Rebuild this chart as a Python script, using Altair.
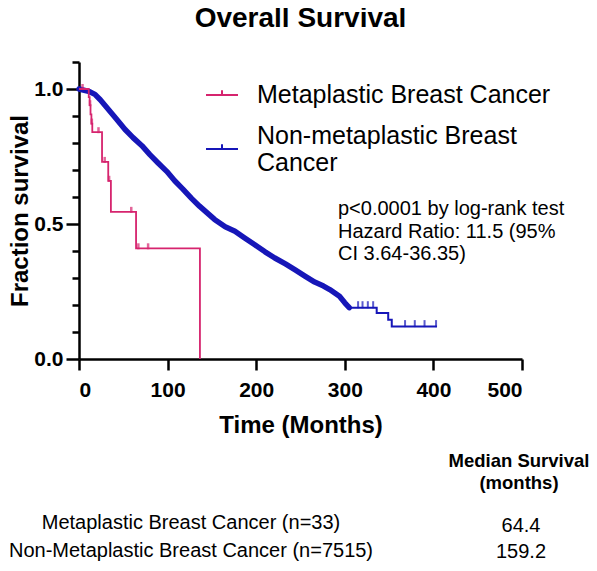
import altair as alt
import pandas as pd

FONT = "Liberation Sans"
RED = "#d6246e"
BLUE = "#1616b8"

title_text = "Overall Survival"
groups = ["Metaplastic Breast Cancer", "Non-metaplastic Breast Cancer"]

# Metaplastic (n=33) Kaplan-Meier steps
meta_time = [0, 11, 12, 13, 14, 15, 26, 33, 36, 64.4, 136.5]
meta_surv = [1.0, 0.97, 0.94, 0.906, 0.872, 0.84, 0.73, 0.66, 0.545, 0.41, 0.0]
meta_cens_time = [4, 12.5, 14.5, 22, 29, 34, 59, 67, 78]
meta_cens_surv = [1.0, 0.94, 0.872, 0.84, 0.73, 0.66, 0.545, 0.41, 0.41]

# Non-metaplastic (n=7515) curve (dense part)
non_time = [0, 12, 18, 24, 33, 42, 52, 61, 71, 80, 89, 99, 108, 117, 127, 136,
            153, 165, 176, 187, 198, 210, 221, 233, 244, 255, 266, 276, 283, 294, 300, 305]
non_surv = [1.0, 0.99, 0.98, 0.96, 0.925, 0.89, 0.85, 0.82, 0.79, 0.757, 0.727, 0.695, 0.66, 0.63, 0.595, 0.566,
            0.517, 0.49, 0.473, 0.448, 0.424, 0.397, 0.374, 0.352, 0.33, 0.307, 0.285, 0.27, 0.257, 0.232, 0.208, 0.19]
# sparse tail
non_tail_time = [305, 336, 349, 353, 404]
non_tail_surv = [0.19, 0.17, 0.145, 0.12, 0.12]
non_cens_time = [315, 320, 326, 332, 368, 379, 390, 403]
non_cens_surv = [0.19, 0.19, 0.19, 0.19, 0.12, 0.12, 0.12, 0.12]

stats_lines = ["p<0.0001 by log-rank test", "Hazard Ratio: 11.5 (95%", "CI 3.64-36.35)"]
table_header = ["Median Survival", "(months)"]
table_groups = ["Metaplastic Breast Cancer (n=33)", "Non-Metaplastic Breast Cancer (n=7515)"]
table_medians = ["64.4", "159.2"]

meta_df = pd.DataFrame({"time": meta_time, "surv": meta_surv, "group": groups[0]})
meta_c_df = pd.DataFrame({"time": meta_cens_time, "surv": meta_cens_surv, "group": groups[0]})
non_df = pd.DataFrame({"time": non_time, "surv": non_surv, "group": groups[1]})
non_tail_df = pd.DataFrame({"time": non_tail_time, "surv": non_tail_surv, "group": groups[1]})
non_c_df = pd.DataFrame({"time": non_cens_time, "surv": non_cens_surv, "group": groups[1]})

xs = alt.Scale(domain=[0, 500], nice=False)
ys = alt.Scale(domain=[0, 1.1], nice=False)
red_scale = alt.Scale(domain=[groups[0]], range=[RED])
blue_scale = alt.Scale(domain=[groups[1]], range=[BLUE])

x_axis = alt.Axis(values=[0, 100, 200, 300, 400, 500], tickSize=11, tickWidth=2.5, domainWidth=2.5,
                  domainColor="black", tickColor="black", labelFont=FONT, labelFontSize=21,
                  labelFontWeight="bold", labelColor="black", labelPadding=9, grid=False,
                  title="Time (Months)", titleFont=FONT, titleFontSize=24, titleFontWeight="bold",
                  titleColor="black", titleX=221.5, titleY=73, titleBaseline="alphabetic", titleAlign="center")
y_main = alt.Axis(orient="left", values=[0, 0.5, 1.0], format=".1f", tickSize=13, tickWidth=2.5,
                  domainWidth=2.5, domainColor="black", tickColor="black", labelFont=FONT,
                  labelFontSize=21, labelFontWeight="bold", labelColor="black", labelPadding=3,
                  grid=False, title="Fraction survival", titleFont=FONT, titleFontSize=24,
                  titleFontWeight="bold", titleColor="black", titleX=-52, titleY=148.5,
                  titleAngle=270, titleAlign="center", titleBaseline="alphabetic")
y_minor = alt.Axis(orient="left", values=[0.1, 0.2, 0.3, 0.4, 0.6, 0.7, 0.8, 0.9, 1.1], tickSize=7,
                   tickWidth=2.5, tickColor="black", labels=False, domain=False, grid=False, title=None)

SYMBOL = "M-1,0H1M0,0V-0.3"
red_legend = alt.Legend(orient="none", legendX=126, legendY=16, title=None,
                        symbolType=SYMBOL, symbolSize=1024, symbolStrokeWidth=2,
                        labelFont=FONT, labelFontSize=25, labelColor="black", labelOffset=18,
                        labelLimit=500, padding=0, labelBaseline="middle")
blue_legend = alt.Legend(orient="none", legendX=126, legendY=70, title=None,
                         symbolType=SYMBOL, symbolSize=1024, symbolStrokeWidth=2,
                         labelFont=FONT, labelFontSize=25, labelColor="black", labelOffset=18,
                         labelLimit=500, padding=0, labelBaseline="bottom",
                         labelExpr="['Non-metaplastic Breast', 'Cancer']")

blue_dense = alt.Chart(non_df).mark_line(strokeWidth=5.5, strokeCap="round", strokeJoin="round").encode(
    x=alt.X("time:Q", scale=xs, axis=x_axis),
    y=alt.Y("surv:Q", scale=ys, axis=y_main),
    stroke=alt.Stroke("group:N", scale=blue_scale, legend=blue_legend),
)
blue_tail = alt.Chart(non_tail_df).mark_line(interpolate="step-after", strokeWidth=2).encode(
    x=alt.X("time:Q", scale=xs),
    y=alt.Y("surv:Q", scale=ys, axis=None),
    stroke=alt.Stroke("group:N", scale=blue_scale),
)
blue_cens = alt.Chart(non_c_df).mark_tick(orient="vertical", size=7, thickness=2, yOffset=-3, color=BLUE).encode(
    x=alt.X("time:Q", scale=xs),
    y=alt.Y("surv:Q", scale=ys, axis=None),
)
red_line = alt.Chart(meta_df).mark_line(interpolate="step-after", strokeWidth=1.8).encode(
    x=alt.X("time:Q", scale=xs),
    y=alt.Y("surv:Q", scale=ys, axis=y_minor),
    color=alt.Color("group:N", scale=red_scale, legend=red_legend),
)
red_cens = alt.Chart(meta_c_df).mark_tick(orient="vertical", size=6, thickness=2.5, yOffset=-2, color=RED).encode(
    x=alt.X("time:Q", scale=xs),
    y=alt.Y("surv:Q", scale=ys, axis=None),
)

title = alt.Chart(pd.DataFrame({"t": [title_text]})).mark_text(
    align="center", baseline="alphabetic", font=FONT, fontSize=28, fontWeight="bold",
    color="black").encode(x=alt.value(221.5), y=alt.value(-35), text="t:N")

stats = alt.Chart(pd.DataFrame({"t": ["\n".join(stats_lines)]})).mark_text(
    align="left", baseline="alphabetic", font=FONT, fontSize=20, lineHeight=22.5,
    color="black", lineBreak="\n").encode(x=alt.value(259), y=alt.value(153), text="t:N")

header = alt.Chart(pd.DataFrame({"t": ["\n".join(table_header)]})).mark_text(
    align="center", baseline="alphabetic", font=FONT, fontSize=18.5, fontWeight="bold",
    lineHeight=22, color="black", lineBreak="\n").encode(x=alt.value(440), y=alt.value(405), text="t:N")

row_label_y = [467, 495]
row_median_y = [470, 496]
rows = []
for i in range(len(table_groups)):
    rows.append(alt.Chart(pd.DataFrame({"t": [table_groups[i]]})).mark_text(
        align="center", baseline="alphabetic", font=FONT, fontSize=20, color="black").encode(
        x=alt.value(112), y=alt.value(row_label_y[i]), text="t:N"))
    rows.append(alt.Chart(pd.DataFrame({"t": [table_medians[i]]})).mark_text(
        align="center", baseline="alphabetic", font=FONT, fontSize=20, color="black").encode(
        x=alt.value(442), y=alt.value(row_median_y[i]), text="t:N"))

chart = alt.layer(blue_dense, blue_tail, blue_cens, red_line, red_cens, title, stats, header, *rows).resolve_axis(
    y="independent"
).properties(
    width=443, height=297,
    autosize=alt.AutoSizeParams(type="none"),
    padding={"left": 71, "top": 54, "right": 67, "bottom": 204},
).configure_view(stroke=None)

chart.save("out.html", embed_options={"renderer": "svg", "actions": False})
